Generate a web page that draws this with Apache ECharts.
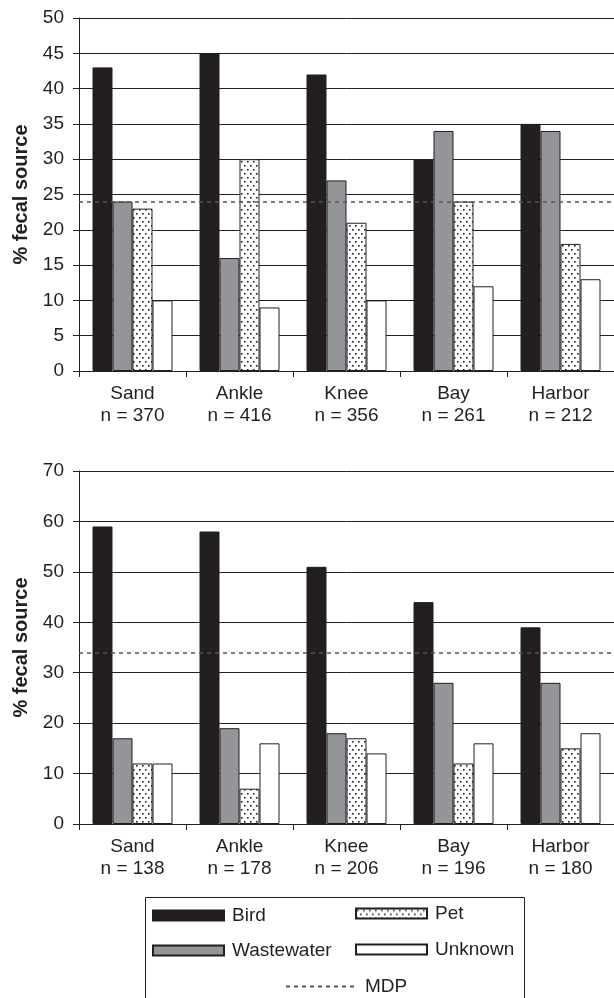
<!DOCTYPE html>
<html>
<head>
<meta charset="utf-8">
<script src="https://cdn.jsdelivr.net/npm/echarts@6/dist/echarts.min.js"></script>
<style>
  html, body { margin: 0; padding: 0; background: #fff; }
  #chart { width: 614px; height: 998px; }
</style>
</head>
<body>
<div id="chart"></div>
<script>
// sites along the shore, n = samples per site
const sites = ['Sand', 'Ankle', 'Knee', 'Bay', 'Harbor'];
const nTop = [370, 416, 356, 261, 212];
const nBottom = [138, 178, 206, 196, 180];

// top panel (% fecal source)
const birdTop = [43, 45, 42, 30, 35];
const wasteTop = [24, 16, 27, 34, 34];
const petTop = [23, 30, 21, 24, 18];
const unknownTop = [10, 9, 10, 12, 13];
const mdpTop = 24;

// bottom panel
const birdBottom = [59, 58, 51, 44, 39];
const wasteBottom = [17, 19, 18, 28, 28];
const petBottom = [12, 7, 17, 12, 15];
const unknownBottom = [12, 16, 14, 16, 18];
const mdpBottom = 34;

const ink = '#231f20';
const font = 'Liberation Sans, Arial, sans-serif';

// dotted fill for "Pet"
function dotPattern() {
    var c = document.createElement('canvas');
    c.width = 6;
    c.height = 8;
    var ctx = c.getContext('2d');
    ctx.fillStyle = '#fff';
    ctx.fillRect(0, 0, 6, 8);
    ctx.fillStyle = '#222';
    ctx.fillRect(1, 1, 1.6, 1.6);
    ctx.fillRect(4, 5, 1.6, 1.6);
    return { image: c, repeat: 'repeat' };
}

const styles = {
    Bird: { color: ink, borderColor: ink, borderWidth: 1 },
    Wastewater: { color: '#939598', borderColor: ink, borderWidth: 1 },
    Pet: { color: dotPattern(), borderColor: ink, borderWidth: 1 },
    Unknown: { color: '#fff', borderColor: ink, borderWidth: 1 }
};

function labels(n) {
    return sites.map(function (s, i) { return s + '\nn = ' + n[i]; });
}

function xAxis(gridIndex, n) {
    return {
        type: 'category',
        gridIndex: gridIndex,
        data: labels(n),
        axisLine: { lineStyle: { color: ink, width: 1 } },
        axisTick: { show: true, length: 6, lineStyle: { color: ink } },
        axisLabel: {
            color: ink, fontSize: 19, fontFamily: font,
            lineHeight: 22, margin: 12
        }
    };
}

function yAxis(gridIndex, max, interval) {
    return {
        type: 'value',
        gridIndex: gridIndex,
        min: 0,
        max: max,
        interval: interval,
        name: '% fecal source',
        nameLocation: 'middle',
        nameGap: 48,
        nameTextStyle: { color: ink, fontSize: 20, fontWeight: 'bold', fontFamily: font },
        axisLine: { show: true, lineStyle: { color: ink, width: 1 } },
        axisTick: { show: true, length: 6, lineStyle: { color: ink } },
        axisLabel: { color: ink, fontSize: 19, fontFamily: font, margin: 15 },
        splitLine: { show: true, lineStyle: { color: ink, width: 1 } }
    };
}

function bars(name, data, idx) {
    return {
        name: name,
        type: 'bar',
        xAxisIndex: idx,
        yAxisIndex: idx,
        barWidth: 20,
        barGap: '0%',
        itemStyle: styles[name],
        emphasis: { disabled: true },
        data: data
    };
}

function mdp(value, idx) {
    return {
        name: 'MDP',
        type: 'line',
        xAxisIndex: idx,
        yAxisIndex: idx,
        symbol: 'none',
        itemStyle: { color: '#555' },
        lineStyle: { color: '#555', width: 1.5, type: [4, 4] },
        data: [],
        markLine: {
            silent: true,
            symbol: ['none', 'none'],
            label: { show: false },
            lineStyle: { color: '#555', width: 1.5, type: [4, 4] },
            data: [{ yAxis: value }]
        }
    };
}

function legendItem(name, left, top) {
    var item = {
        data: [name],
        left: left,
        top: top,
        padding: 0,
        itemWidth: 71,
        itemHeight: 10,
        selectedMode: false,
        textStyle: { color: ink, fontSize: 19, fontFamily: font, padding: [0, 0, 0, 3] }
    };
    if (name === 'MDP') {
        // only the dashed stroke, no point marker
        item.itemStyle = { color: 'rgba(0,0,0,0)', borderWidth: 0 };
    } else {
        item.icon = 'rect';
    }
    return item;
}

var dom = document.getElementById('chart');
var myChart = echarts.init(dom, null, { renderer: 'canvas' });

var option = {
    animation: false,
    backgroundColor: '#fff',
    grid: [
        { left: 79, right: 0, top: 18, height: 353 },
        { left: 79, right: 0, top: 471, height: 353 }
    ],
    xAxis: [xAxis(0, nTop), xAxis(1, nBottom)],
    yAxis: [yAxis(0, 50, 5), yAxis(1, 70, 10)],
    legend: [
        legendItem('Bird', 152, 906),
        legendItem('Pet', 355, 904),
        legendItem('Wastewater', 152, 941),
        legendItem('Unknown', 355, 940),
        legendItem('MDP', 285, 977)
    ],
    graphic: [{
        type: 'rect',
        shape: { x: 145.5, y: 897.5, width: 379, height: 130 },
        style: { fill: 'none', stroke: ink, lineWidth: 1 },
        silent: true
    }],
    series: [
        bars('Bird', birdTop, 0),
        bars('Wastewater', wasteTop, 0),
        bars('Pet', petTop, 0),
        bars('Unknown', unknownTop, 0),
        mdp(mdpTop, 0),
        bars('Bird', birdBottom, 1),
        bars('Wastewater', wasteBottom, 1),
        bars('Pet', petBottom, 1),
        bars('Unknown', unknownBottom, 1),
        mdp(mdpBottom, 1)
    ]
};

if (option && typeof option === 'object') {
    myChart.setOption(option);
}

window.addEventListener('resize', myChart.resize);
</script>
</body>
</html>
